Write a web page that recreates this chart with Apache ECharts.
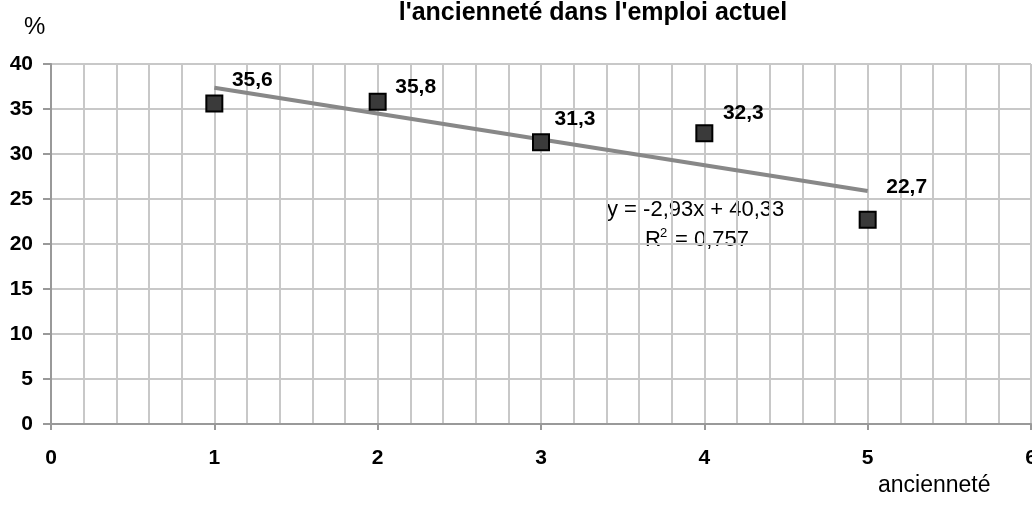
<!DOCTYPE html>
<html>
<head>
<meta charset="utf-8">
<script src="https://cdn.jsdelivr.net/npm/echarts@6/dist/echarts.min.js"></script>
<style>
  html, body { margin: 0; padding: 0; background: #fff; overflow: hidden; }
  #chart { width: 1032px; height: 516px; }
</style>
</head>
<body>
<div id="chart"></div>
<script>
const anciennete = [1, 2, 3, 4, 5];
const pourcentage = [35.6, 35.8, 31.3, 32.3, 22.7];
const trendX = [1, 5];
const trendY = [37.35, 25.9];
const yTicks = [0, 5, 10, 15, 20, 25, 30, 35, 40];
const xTicks = [0, 1, 2, 3, 4, 5, 6];

// label offsets per point (moved by hand in the original)
const labelShift = [[38, -23], [38, -15], [34, -23], [39, -20], [39, -32]];

const FONT = 'Liberation Sans, Arial, sans-serif';
const chart = echarts.init(document.getElementById('chart'));

const txt = (left, top, text, size, weight) => ({
  type: 'text', left, top,
  style: { text, fontSize: size, fontFamily: FONT, fontWeight: weight || 'normal', fill: '#000' }
});

const option = {
  animation: false,
  textStyle: { fontFamily: FONT },
  title: {
    text: "l'ancienneté dans l'emploi actuel",
    left: 588,
    top: -4,
    textAlign: 'center',
    textStyle: { fontSize: 25, fontWeight: 'bold', color: '#000', fontFamily: FONT }
  },
  graphic: [
    txt(24, 15, '%', 24),
    txt(878, 474, 'ancienneté', 23),
    txt(607, 199, 'y = -2,93x + 40,33', 22),
    txt(645, 229, 'R', 22),
    txt(660, 227, '2', 13),
    txt(675, 229, '= 0,757', 22)
  ],
  grid: {
    left: 51, right: 1, top: 64, bottom: 92,
    containLabel: false,
    outerBoundsMode: 'none'
  },
  xAxis: {
    type: 'value',
    min: xTicks[0],
    max: xTicks[xTicks.length - 1],
    interval: 1,
    axisLine: { show: true, onZero: false, lineStyle: { color: '#999', width: 2 } },
    axisTick: { show: true, length: 6, lineStyle: { color: '#999', width: 2 } },
    axisLabel: { margin: 24, fontSize: 21, fontWeight: 'bold', color: '#000' },
    splitLine: { show: true, lineStyle: { color: '#c8c8c8', width: 2 } },
    minorTick: { show: false, splitNumber: 5 },
    minorSplitLine: { show: true, lineStyle: { color: '#c8c8c8', width: 2 } }
  },
  yAxis: {
    type: 'value',
    min: yTicks[0],
    max: yTicks[yTicks.length - 1],
    interval: 5,
    axisLine: { show: true, lineStyle: { color: '#999', width: 2 } },
    axisTick: { show: true, length: 8, lineStyle: { color: '#999', width: 2 } },
    axisLabel: { margin: 18, fontSize: 21, fontWeight: 'bold', color: '#000' },
    splitLine: { show: true, lineStyle: { color: '#c8c8c8', width: 2 } }
  },
  series: [
    {
      type: 'line',
      data: trendX.map((x, i) => [x, trendY[i]]),
      symbol: 'none',
      lineStyle: { color: '#888', width: 4 },
      z: 3
    },
    {
      type: 'scatter',
      symbol: 'rect',
      symbolSize: 16,
      itemStyle: { color: '#3a3a3a', borderColor: '#000', borderWidth: 2, opacity: 1 },
      data: anciennete.map((x, i) => ({
        value: [x, pourcentage[i]],
        label: {
          show: true,
          position: 'inside',
          offset: labelShift[i],
          formatter: String(pourcentage[i]).replace('.', ','),
          fontSize: 21,
          fontWeight: 'bold',
          color: '#000'
        }
      })),
      z: 4
    }
  ]
};

chart.setOption(option);
</script>
</body>
</html>
